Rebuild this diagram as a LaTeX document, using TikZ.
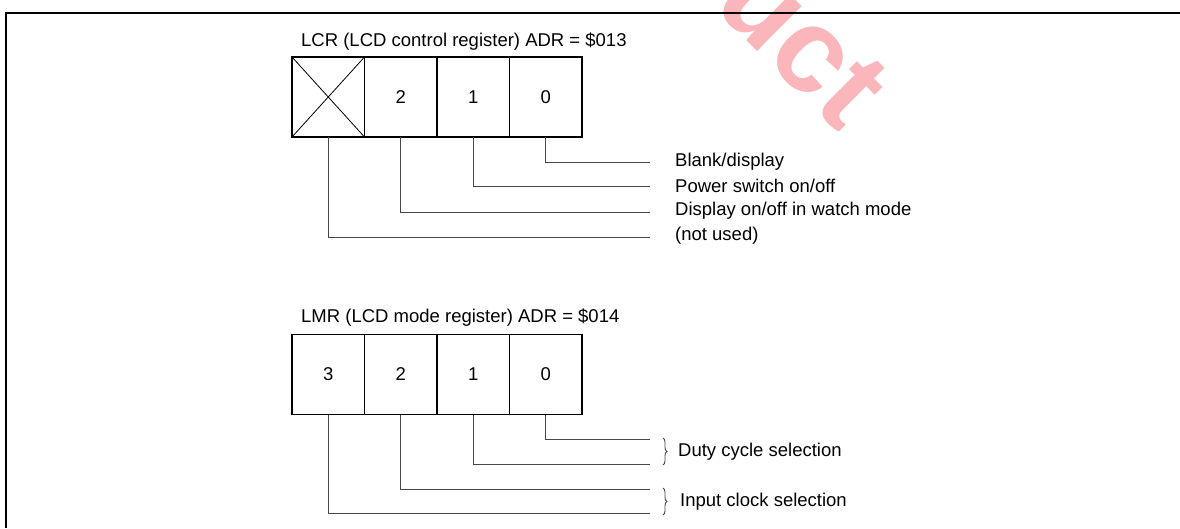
\documentclass[tikz,border=0pt]{standalone}
\usepackage{fontspec}
\setmainfont{Liberation Sans}
\usetikzlibrary{decorations.pathreplacing}
\definecolor{wmark}{RGB}{250,182,186}
\definecolor{conn}{RGB}{70,70,70}
\begin{document}
\begin{tikzpicture}[x=1pt,y=-1pt,
  cell/.style={draw=black,line width=1.2pt,minimum width=72.5pt,minimum height=80pt,inner sep=0pt,outer sep=0pt,font=\fontsize{18.5}{22}\selectfont},
  lbl/.style={anchor=west,inner sep=0pt,font=\fontsize{18.5}{22}\selectfont},
  ttl/.style={anchor=west,inner sep=0pt,font=\fontsize{18.5}{22}\selectfont},
  wire/.style={draw=conn,line width=1pt},
  brc/.style={draw=conn,line width=0.9pt,decorate,decoration={brace,amplitude=4pt}},
  frame/.style={draw=black,line width=1.4pt}]
\useasboundingbox (0,0) rectangle (1180,528);
\clip (0,0) rectangle (1180,528);
% watermark
\node[anchor=base west,rotate=-45,inner sep=0pt,text=wmark,font=\fontsize{120}{130}\selectfont\bfseries] (wm) at (660,-46) {duct};
% frame
\draw[frame] (1180,13) -- (6,13) -- (6,528);
% LCR
\node[ttl] (t1) at (301,42) {LCR (LCD control register) ADR = \$013};
\node[cell] (cx) at (328.25,97) {};
\draw[line width=0.8pt] (cx.north west) -- (cx.south east) (cx.south west) -- (cx.north east);
\node[cell] (c2) at (400.75,97) {2};
\node[cell] (c1) at (473.25,97) {1};
\node[cell] (c0) at (545.75,97) {0};
\coordinate (e0) at (650,162);
\coordinate (e1) at (650,186);
\coordinate (e2) at (650,212);
\coordinate (e3) at (650,237);
\draw[wire] (c0.south) |- (e0);
\draw[wire] (c1.south) |- (e1);
\draw[wire] (c2.south) |- (e2);
\draw[wire] (cx.south) |- (e3);
\node[lbl] (l0) at (675,162) {Blank/display};
\node[lbl] (l1) at (675,186) {Power switch on/off};
\node[lbl] (l2) at (675,211) {Display on/off in watch mode};
\node[lbl] (l3) at (675,236) {(not used)};
% LMR
\node[ttl] (t2) at (301,318) {LMR (LCD mode register) ADR = \$014};
\node[cell] (m3) at (328.25,374.5) {3};
\node[cell] (m2) at (400.75,374.5) {2};
\node[cell] (m1) at (473.25,374.5) {1};
\node[cell] (m0) at (545.75,374.5) {0};
\coordinate (f0) at (650,439);
\coordinate (f1) at (650,464);
\coordinate (f2) at (650,489);
\coordinate (f3) at (650,513);
\draw[wire] (m0.south) |- (f0);
\draw[wire] (m1.south) |- (f1);
\draw[wire] (m2.south) |- (f2);
\draw[wire] (m3.south) |- (f3);
\coordinate (b1a) at (663,438);
\coordinate (b1b) at (663,465);
\coordinate (b2a) at (663,488);
\coordinate (b2b) at (663,515);
\draw[brc] (b1a) -- (b1b);
\draw[brc] (b2a) -- (b2b);
\node[lbl] (d1) at (678,452) {Duty cycle selection};
\node[lbl] (d2) at (680,502) {Input clock selection};
\end{tikzpicture}
\end{document}
